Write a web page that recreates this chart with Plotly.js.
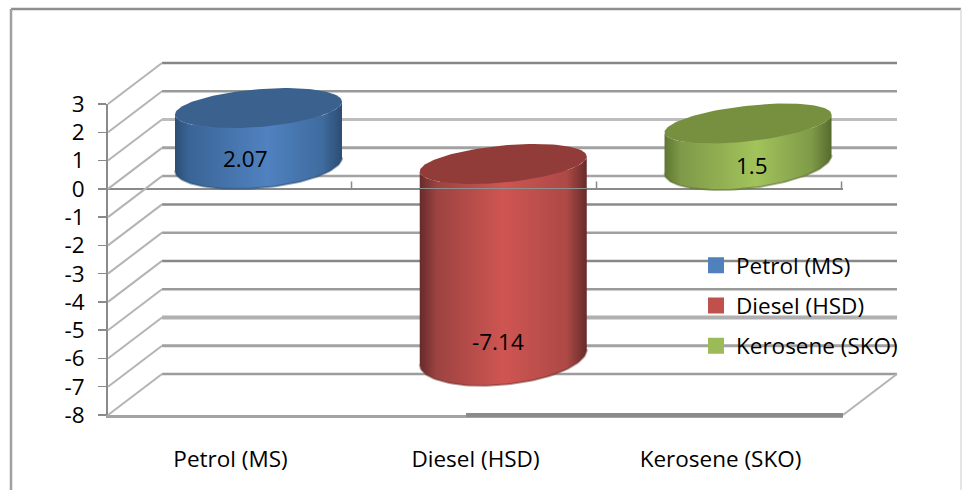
<!DOCTYPE html>
<html>
<head>
<meta charset="utf-8">
<script src="https://cdn.plot.ly/plotly-3.0.1.min.js"></script>
<style>html,body{margin:0;padding:0;background:#fff}#chart{width:962px;height:490px}</style>
</head>
<body>
<div id="chart"></div>
<script>
// Data
var categories = ["Petrol (MS)", "Diesel (HSD)", "Kerosene (SKO)"];
var values = [2.07, -7.14, 1.5];
var axisTicks = [3, 2, 1, 0, -1, -2, -3, -4, -5, -6, -7, -8];

// Styles
var gridColors = ["#868686","#9a9a9a","#bdbdbd","#a2a2a2","#a3a3a3","#8a8a8a","#a0a0a0","#888888","#9a9a9a","#b0b0b0","#a2a2a2","#9c9c9c"];
var gridWidths = [2.5,2.5,3,3,2.5,2.5,2.5,2.5,2.5,4,3,2.5];
var baseColors = ["#4f81bd", "#c0504d", "#9bbb59"];
var topColors = ["#3b628f", "#923c39", "#76903f"];
var sideScales = [
  [[0,"#2c4d74"],[0.08,"#3a6496"],[0.55,"#5082c0"],[0.88,"#3f6c9f"],[1,"#2c4d74"]],
  [[0,"#652b2a"],[0.1,"#9c4341"],[0.5,"#cf5552"],[0.88,"#ad4946"],[1,"#652b2a"]],
  [[0,"#5f7632"],[0.1,"#7f9a48"],[0.55,"#a2c35b"],[0.88,"#7f9a48"],[1,"#566b2d"]]
];
var rimColors = ["#2a4a70", "#74302e", "#55692c"];
var FONT = "Open Sans", FS = 22.5;

// Oblique projection of the box, in labelled-axis units
var PXX = 245, PXY = 28.27;
var depthX = 54 / PXX, depthY = 41 / PXY;

// Cylinder geometry, in pixels on the cylinder axes (x3 / y3)
var PX3 = 244.75, PY3 = 27;
var halfWidth = 83.5;
var shear = [6.5, 7.5, 9];
var topExtent = [20, 20, 20];
var baseExtent = [25, 29, 26];

var traces = [];
var wire = {mode:"lines", xaxis:"x2", yaxis:"y2", showlegend:false, hoverinfo:"skip"};
function wireTrace(x, y, color, width){
  traces.push(Object.assign({x:x, y:y, line:{color:color, width:width}}, wire));
}

// category separators on the zero plane (on the labelled axes)
[0.5,1.5,2.5].forEach(function(c){
  traces.push({x:[c-0.006,c-0.006], y:[0,0.26], mode:"lines", xaxis:"x", yaxis:"y",
    line:{color:"#8a8a8a", width:1.5}, showlegend:false, hoverinfo:"skip"});
});

// back wall grid
axisTicks.forEach(function(v, i){
  wireTrace([-0.5+depthX, 2.5+depthX], [v+depthY, v+depthY], gridColors[i], gridWidths[i]);
});
// side wall diagonals
axisTicks.forEach(function(v){
  wireTrace([-0.5, -0.5+depthX], [v, v+depthY], "#b4b4b4", 2);
});
// floor right diagonal and heavier stretch of the floor edge
wireTrace([2.5, 2.5+depthX], [-8, -8+depthY], "#b4b4b4", 2);
wireTrace([-0.5+(466-108)/PXX, 2.5], [-8,-8], "#8a8a8a", 4);

// Bars on the cylinder axes (they also give the legend keys)
categories.forEach(function(c, i){
  traces.push({type:"bar", name:c, legendgroup:c, x:[i], y:[values[i]], width:0.5, xaxis:"x3", yaxis:"y3",
    marker:{color:baseColors[i], line:{color:baseColors[i], width:4}}, hovertemplate:c+": %{y}<extra></extra>"});
});

function ellipsePoint(i, valueAt, extent, t){
  var s = shear[i], r = Math.sqrt(extent*extent - s*s);
  return [i + halfWidth*Math.cos(t)/PX3, valueAt + (s*Math.cos(t) + r*Math.sin(t))/PY3];
}
function steps(from, to, n){ var a=[]; for(var k=0;k<=n;k++) a.push(from+(to-from)*k/n); return a; }

categories.forEach(function(c, i){
  var v = values[i];
  var topV = Math.max(v,0), baseV = Math.min(v,0);
  var xs=[], ys=[], bx=[], by=[];
  steps(Math.PI, 2*Math.PI, 60).forEach(function(t){
    var p = ellipsePoint(i, baseV, baseExtent[i], t); xs.push(p[0]); ys.push(p[1]); bx.push(p[0]); by.push(p[1]);
  });
  steps(0, -Math.PI, 60).forEach(function(t){
    var p = ellipsePoint(i, topV, topExtent[i], t); xs.push(p[0]); ys.push(p[1]);
  });
  xs.push(xs[0]); ys.push(ys[0]);
  traces.push({x:xs, y:ys, mode:"lines", fill:"toself", xaxis:"x3", yaxis:"y3", line:{width:0, color:baseColors[i]},
    fillgradient:{type:"horizontal", colorscale:sideScales[i]}, showlegend:false, hoverinfo:"skip"});
  // darker rim along the base
  traces.push({x:bx, y:by, mode:"lines", xaxis:"x3", yaxis:"y3", line:{width:2, color:rimColors[i]}, opacity:0.5,
    showlegend:false, hoverinfo:"skip"});
  // top face
  var tx=[], ty=[];
  steps(0, 2*Math.PI, 120).forEach(function(t){
    var p = ellipsePoint(i, topV, topExtent[i], t); tx.push(p[0]); ty.push(p[1]);
  });
  traces.push({x:tx, y:ty, mode:"lines", fill:"toself", fillcolor:topColors[i], xaxis:"x3", yaxis:"y3",
    line:{width:0, color:topColors[i]}, showlegend:false, hoverinfo:"skip"});
});

// thin front edge of the zero plane passing over the Diesel cylinder
traces.push({x:[1-halfWidth/PX3, 1+halfWidth/PX3], y:[(164-188.5)/PY3,(164-188.5)/PY3], mode:"lines", xaxis:"x3", yaxis:"y3",
  line:{width:1, color:"#8f8f8f"}, showlegend:false, hoverinfo:"skip"});

var labelShift = [[-13,6],[-5,15],[4,-1]];
var labelBase = [0, values[1], 0];
var annotations = values.map(function(v, i){
  return {x:i, y:labelBase[i], xref:"x3", yref:"y3", text:String(v), showarrow:false,
    xshift:labelShift[i][0], yshift:labelShift[i][1], font:{family:FONT, size:FS, color:"#000"}};
});

var W=962, H=490;
// wireframe axes: same units as the labelled axes, wider pixel span so nothing is clipped
var wireL=100, wireR=905, wireT=54, wireB=425;
function frameLine(x0,y0,x1,y1,color,width){
  return {type:"line", xref:"paper", yref:"paper", x0:x0/W, x1:x1/W, y0:1-y0/H, y1:1-y1/H, line:{color:color, width:width}, layer:"below"};
}
var layout = {
  width:W, height:H, margin:{l:0,r:0,t:0,b:0}, paper_bgcolor:"#fff", plot_bgcolor:"rgba(0,0,0,0)",
  showlegend:true, bargap:0,
  font:{family:FONT, size:FS, color:"#000"},
  xaxis:{domain:[108/W,843/W], range:[-0.5,2.5], anchor:"y", tickmode:"array", tickvals:[0,1,2], ticktext:categories,
    ticks:"", ticklabelstandoff:22, showgrid:false, zeroline:false, showline:true, linecolor:"#a3a3a3", linewidth:3,
    tickfont:{family:FONT, size:FS, color:"#000"}},
  yaxis:{domain:[(H-415)/H,(H-104)/H], range:[-8,3], anchor:"x", tickmode:"array", tickvals:axisTicks, ticktext:axisTicks.map(String),
    ticks:"outside", ticklen:8, tickwidth:1.5, tickcolor:"#8a8a8a", ticklabelstandoff:9, showgrid:false,
    showline:true, linecolor:"#8a8a8a", linewidth:2, zeroline:true, zerolinecolor:"#8a8a8a", zerolinewidth:2,
    tickfont:{family:FONT, size:FS, color:"#000"}},
  xaxis2:{domain:[wireL/W,wireR/W], range:[-0.5+(wireL-108)/PXX, -0.5+(wireR-108)/PXX], anchor:"y2", visible:false},
  yaxis2:{domain:[(H-wireB)/H,(H-wireT)/H], range:[-8-(wireB-415)/PXY, -8+(415-wireT)/PXY], anchor:"x2", visible:false},
  xaxis3:{domain:[(258.5-122.4)/W,(748+122.4)/W], range:[-0.5,2.5], anchor:"y3", visible:false},
  yaxis3:{domain:[(H-434)/H,(H-56)/H], range:[-10,4], anchor:"x3", visible:false},
  legend:{x:696/W, y:1-244/H, xanchor:"left", yanchor:"top", bgcolor:"rgba(0,0,0,0)", traceorder:"grouped", tracegroupgap:8,
    font:{family:FONT, size:FS, color:"#000"}},
  annotations:annotations,
  shapes:[
    frameLine(11,9,961,9,"#8f8f8f",2.5),
    frameLine(11,9,11,490,"#a0a0a0",2.5),
    frameLine(961,9,961,490,"#dcdcdc",1.5)
  ]
};
Plotly.newPlot("chart", traces, layout, {displayModeBar:false, staticPlot:true});
</script>
</body>
</html>
